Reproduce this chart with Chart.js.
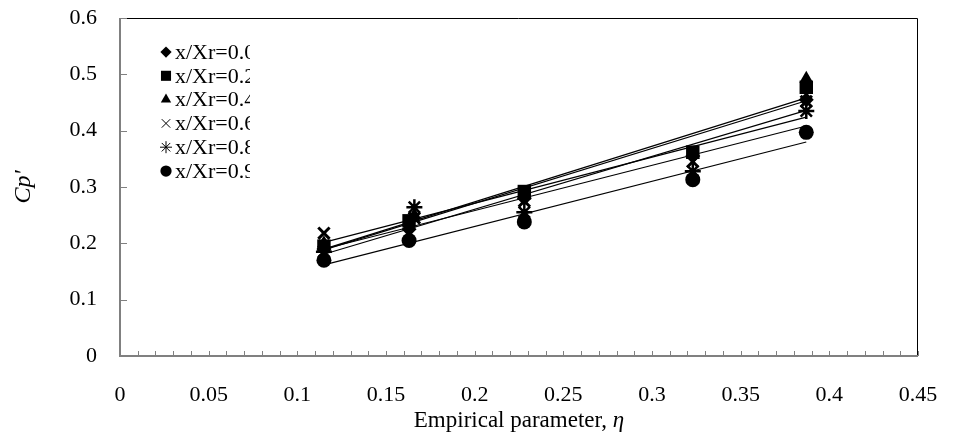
<!DOCTYPE html>
<html>
<head>
<meta charset="utf-8">
<script src="https://cdn.jsdelivr.net/npm/chart.js@4.4.0/dist/chart.umd.min.js"></script>
<style>
  html, body { margin: 0; padding: 0; background: #fff; }
</style>
</head>
<body>
<canvas id="chart" width="954" height="433"></canvas>
<script>
// ========== DATA ==========
const etaA = [0.115, 0.163, 0.228, 0.323, 0.387];
const etaB = [0.115, 0.166, 0.228, 0.323, 0.387];

const cp00 = [0.190, 0.225, 0.280, 0.355, 0.455];
const cp02 = [0.195, 0.240, 0.292, 0.362, 0.477];
const cp04 = [0.200, 0.250, 0.285, 0.357, 0.492];
const cp06 = [0.218, 0.245, 0.275, 0.345, 0.452];
const cp08 = [0.185, 0.264, 0.255, 0.328, 0.435];
const cp09 = [0.170, 0.205, 0.238, 0.313, 0.397];

const seriesLabels = ["x/Xr=0.0", "x/Xr=0.2", "x/Xr=0.4", "x/Xr=0.6", "x/Xr=0.8", "x/Xr=0.9"];
const xTicks = [0, 0.05, 0.1, 0.15, 0.2, 0.25, 0.3, 0.35, 0.4, 0.45];
const yTicks = [0, 0.1, 0.2, 0.3, 0.4, 0.5, 0.6];

const FONT = "'Liberation Serif', 'Times New Roman', serif";

const series = [
    { label: seriesLabels[0], xs: etaA, ys: cp00, style: "rectRot", r: 7.5, bw: 0 },
    { label: seriesLabels[1], xs: etaA, ys: cp02, style: "rect", r: 9.5, bw: 0 },
    { label: seriesLabels[2], xs: etaB, ys: cp04, style: "triangle", r: 8, bw: 0 },
    { label: seriesLabels[3], xs: etaB, ys: cp06, style: "crossRot", r: 8, bw: 3 },
    { label: seriesLabels[4], xs: etaB, ys: cp08, style: "star", r: 8, bw: 2.5 },
    { label: seriesLabels[5], xs: etaA, ys: cp09, style: "circle", r: 7.5, bw: 0 }
];

// linear trend line over the data range (like the spreadsheet trendline)
function trend(xs, ys) {
    const n = xs.length;
    const mx = xs.reduce((a, b) => a + b, 0) / n;
    const my = ys.reduce((a, b) => a + b, 0) / n;
    let sxy = 0, sxx = 0;
    for (let i = 0; i < n; i++) {
        sxy += (xs[i] - mx) * (ys[i] - my);
        sxx += (xs[i] - mx) * (xs[i] - mx);
    }
    const b = sxy / sxx, a = my - b * mx;
    const x0 = Math.min(...xs), x1 = Math.max(...xs);
    return [{ x: x0, y: a + b * x0 }, { x: x1, y: a + b * x1 }];
}

const datasets = [];
series.forEach(s => {
    datasets.push({
        type: "line",
        data: trend(s.xs, s.ys),
        borderColor: "#000",
        borderWidth: 1.2,
        pointRadius: 0,
        fill: false
    });
});
series.forEach(s => {
    datasets.push({
        type: "scatter",
        label: s.label,
        data: s.xs.map((x, i) => ({ x: x, y: s.ys[i] })),
        pointStyle: s.style,
        pointRadius: s.r,
        pointHoverRadius: s.r,
        pointBorderWidth: s.bw,
        backgroundColor: "#000",
        borderColor: "#000"
    });
});

// ========== FRAME, TICKS, LEGEND, TITLES ==========
const decorPlugin = {
    id: "decor",
    afterDraw(chart) {
        const ctx = chart.ctx;
        const a = chart.chartArea;
        const xs = chart.scales.x, ys = chart.scales.y;
        ctx.save();

        // top + right border
        ctx.strokeStyle = "#000";
        ctx.lineWidth = 1;
        ctx.beginPath();
        ctx.moveTo(a.left, a.top + 0.5);
        ctx.lineTo(a.right - 0.5, a.top + 0.5);
        ctx.lineTo(a.right - 0.5, a.bottom);
        ctx.stroke();

        // left + bottom axes (grey)
        ctx.strokeStyle = "#808080";
        ctx.lineWidth = 2;
        ctx.beginPath();
        ctx.moveTo(a.left, a.top);
        ctx.lineTo(a.left, a.bottom);
        ctx.lineTo(a.right, a.bottom);
        ctx.stroke();

        // inside ticks
        ctx.lineWidth = 1;
        ctx.beginPath();
        yTicks.forEach(v => {
            const y = Math.round(ys.getPixelForValue(v)) + 0.5;
            ctx.moveTo(a.left, y);
            ctx.lineTo(a.left + 7, y);
        });
        for (let i = 1; i <= 45; i++) {
            const x = Math.round(xs.getPixelForValue(i / 100)) + 0.5;
            ctx.moveTo(x, a.bottom);
            ctx.lineTo(x, a.bottom - 5);
        }
        ctx.stroke();

        // legend (clipped at the right like the original)
        ctx.save();
        ctx.beginPath();
        ctx.rect(a.left, a.top, 130, 180);
        ctx.clip();
        ctx.font = "22px " + FONT;
        ctx.textBaseline = "middle";
        ctx.textAlign = "left";
        series.forEach((s, i) => {
            const y = 52 + i * 23.8;
            ctx.fillStyle = "#000";
            ctx.strokeStyle = "#000";
            Chart.helpers.drawPoint(ctx, {
                pointStyle: s.style,
                radius: s.r * 0.75,
                rotation: 0,
                borderWidth: s.bw ? 2 : 0
            }, 166, y);
            ctx.fillStyle = "#000";
            ctx.fillText(s.label, 175, y + 1);
        });
        ctx.restore();

        // x axis title with italic eta
        ctx.fillStyle = "#000";
        ctx.textBaseline = "alphabetic";
        const t1 = "Empirical parameter, ";
        ctx.font = "23px " + FONT;
        const w1 = ctx.measureText(t1).width;
        ctx.font = "italic 23px " + FONT;
        const w2 = ctx.measureText("\u03B7").width;
        const cx = (a.left + a.right) / 2;
        const x0 = cx - (w1 + w2) / 2;
        ctx.font = "23px " + FONT;
        ctx.fillText(t1, x0, 427);
        ctx.font = "italic 23px " + FONT;
        ctx.fillText("\u03B7", x0 + w1, 427);

        // y axis title
        ctx.translate(30, (a.top + a.bottom) / 2);
        ctx.rotate(-Math.PI / 2);
        ctx.textAlign = "center";
        ctx.font = "italic 24px " + FONT;
        ctx.fillText("Cp'", 0, 0);

        ctx.restore();
    }
};

const ctx = document.getElementById("chart").getContext("2d");
new Chart(ctx, {
    data: { datasets: datasets },
    options: {
        responsive: false,
        animation: false,
        devicePixelRatio: 1,
        layout: { padding: { top: 18, right: 36, left: 0, bottom: 0 } },
        plugins: {
            legend: { display: false },
            tooltip: { enabled: false }
        },
        scales: {
            x: {
                type: "linear",
                min: 0,
                max: 0.45,
                afterFit: s => { s.height = 77; s.paddingLeft = 0; s.paddingRight = 0; },
                afterBuildTicks: s => { s.ticks = xTicks.map(v => ({ value: v })); },
                grid: { display: false, drawTicks: false },
                border: { display: false },
                ticks: {
                    padding: 26,
                    maxRotation: 0,
                    color: "#000",
                    font: { family: FONT, size: 22 },
                    callback: v => String(parseFloat(v.toFixed(2)))
                }
            },
            y: {
                type: "linear",
                min: 0,
                max: 0.6,
                afterFit: s => { s.width = 120; s.paddingTop = 0; s.paddingBottom = 0; },
                afterBuildTicks: s => { s.ticks = yTicks.map(v => ({ value: v })); },
                grid: { display: false, drawTicks: false },
                border: { display: false },
                ticks: {
                    padding: 23,
                    color: "#000",
                    font: { family: FONT, size: 22 },
                    callback: v => String(parseFloat(v.toFixed(1)))
                }
            }
        }
    },
    plugins: [decorPlugin]
});
</script>
</body>
</html>
